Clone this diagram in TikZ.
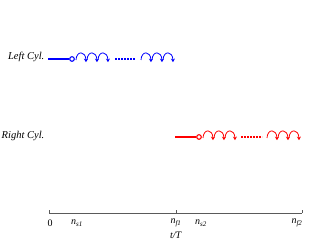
\documentclass[tikz,border=0pt]{standalone}
\usepackage{fontspec}
\setmainfont{Liberation Serif}
\usetikzlibrary{arrows.meta}
\definecolor{axisgray}{RGB}{90,90,90}
\tikzset{
  lbl/.style={font=\fontsize{10.5}{12}\selectfont\itshape, inner sep=0pt, anchor=east},
  axlbl/.style={font=\fontsize{10}{11}\selectfont, inner sep=0pt},
  startline/.style={line width=1.4pt},
  startdot/.style={circle, draw, line width=1.1pt, fill=white, minimum size=4.6pt, inner sep=0pt},
  hop/.style={line width=0.8pt, -{Stealth[length=3.6pt,width=4pt]}},
  gap/.style={line width=1.4pt, dash pattern=on 1.6pt off 1.4pt},
  axisline/.style={draw=axisgray, line width=0.6pt}
}
\newcommand{\hops}[3]{% start x, y, colour
  \foreach \k in {0,1,2}{
    \draw[hop,#3] ({#1+11*\k},{#2+1}) .. controls ({#1+11*\k+0.3},{#2-8.5}) and ({#1+11*\k+9.7},{#2-8.5}) .. ({#1+11*\k+10},{#2+3.2});
  }
}
\begin{document}
\begin{tikzpicture}[x=1pt,y=-1pt]
\useasboundingbox (0,0) rectangle (332,245);
% Left cylinder
\node[lbl] (L) at (44.5,57) {Left Cyl.};
\coordinate (Ls) at (48,59);
\node[startdot,draw=blue] (Lc) at (72,59) {};
\draw[startline,blue] (Ls) -- (Lc.west);
\hops{76}{59}{blue}
\coordinate (Lg1) at (115,59);
\coordinate (Lg2) at (135,59);
\draw[gap,blue] (Lg1) -- (Lg2);
\hops{141}{59}{blue}
% Right cylinder
\node[lbl] (R) at (44.5,136) {Right Cyl.};
\coordinate (Rs) at (175,137);
\node[startdot,draw=red] (Rc) at (199,137) {};
\draw[startline,red] (Rs) -- (Rc.west);
\hops{203}{137}{red}
\coordinate (Rg1) at (241,137);
\coordinate (Rg2) at (262,137);
\draw[gap,red] (Rg1) -- (Rg2);
\hops{267}{137}{red}
% axis
\coordinate (A0) at (49,213);
\coordinate (A1) at (176,213);
\coordinate (A2) at (302,213);
\draw[axisline] (A0) -- (A2);
\foreach \p in {A0,A1,A2}{\draw[axisline] (\p) -- ++(0,-3);}
\node[axlbl] (z) at (50,223) {0};
\node[axlbl] (ns1) at (77,223) {\textit{n}\textsubscript{\textit{s1}}};
\node[axlbl] (nf1) at (176,223) {\textit{n}\textsubscript{\textit{f1}}};
\node[axlbl] (ns2) at (201,223) {\textit{n}\textsubscript{\textit{s2}}};
\node[axlbl] (nf2) at (297,223) {\textit{n}\textsubscript{\textit{f2}}};
\node[axlbl] (tT) at (176,235) {\textit{t/T}};
\end{tikzpicture}
\end{document}
